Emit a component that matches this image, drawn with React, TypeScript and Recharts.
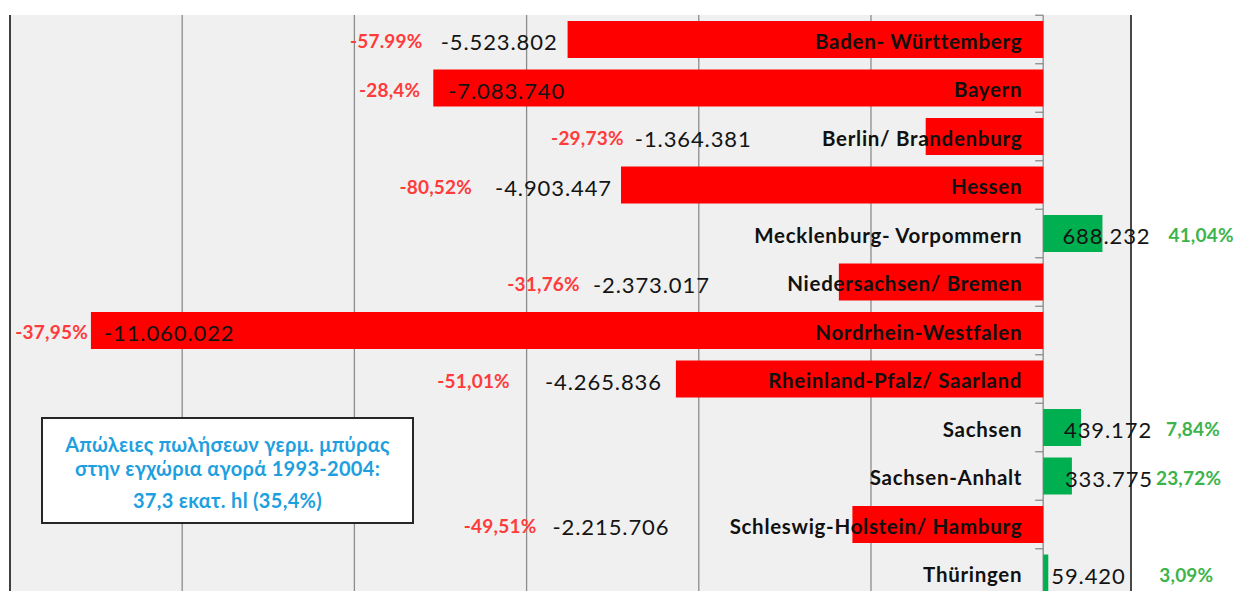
import React from "react";
import { BarChart, Bar, XAxis, YAxis, CartesianGrid, Cell, LabelList, ReferenceLine } from "recharts";

// ---- data ----
const categories = [
  "Baden- Württemberg",
  "Bayern",
  "Berlin/ Brandenburg",
  "Hessen",
  "Mecklenburg- Vorpommern",
  "Niedersachsen/ Bremen",
  "Nordrhein-Westfalen",
  "Rheinland-Pfalz/ Saarland",
  "Sachsen",
  "Sachsen-Anhalt",
  "Schleswig-Holstein/ Hamburg",
  "Thüringen",
];
const salesChange = [
  -5523802, -7083740, -1364381, -4903447, 688232, -2373017, -11060022, -4265836, 439172, 333775, -2215706, 59420,
];
const percentLabels = [
  "-57.99%", "-28,4%", "-29,73%", "-80,52%", "41,04%", "-31,76%", "-37,95%", "-51,01%", "7,84%", "23,72%", "-49,51%", "3,09%",
];
const xTicks = [-12000000, -10000000, -8000000, -6000000, -4000000, -2000000, 0];
const boxLines = ["Απώλειες πωλήσεων γερμ. μπύρας", "στην εγχώρια αγορά 1993-2004:", "37,3 εκατ. hl (35,4%)"];

// ---- layout (label nudges, px, relative to bar end) ----
const valueInside = [false, true, false, false, true, false, true, false, true, true, false, false];
const valueDx = [-10, 15, -174, -9, -40, -129, 13, -14, -17, -7, -183, 3];
const pctDx = [-145, -13, -302, -149, 66, -259, -3, -166, 85, 84, -316, 111];

const W = 1237;
const H = 620;
const M = { top: 15, right: 106, bottom: 23, left: 10 };
const BAND = (H - M.top - M.bottom) / categories.length;

const FONT = "Lato, 'Open Sans', sans-serif";
const RED = "#ff0000";
const GREEN = "#00b050";

const fmt = (v: number) => {
  const s = Math.abs(v).toString().replace(/\B(?=(\d{3})+(?!\d))/g, ".");
  return (v < 0 ? "-" : "") + s;
};

const data = categories.map((name, i) => ({ name, value: salesChange[i] }));

const EmptyTick = () => <g />;

const RowLabels = (p: any) => {
  const vb = p.viewBox || p;
  const x = Number(p.x ?? vb.x);
  const y = Number(p.y ?? vb.y);
  const w = Number(p.width ?? vb.width);
  const h = Number(p.height ?? vb.height);
  const value = Number(p.value);
  let i = typeof p.index === "number" ? p.index : salesChange.indexOf(value);
  if (i < 0) i = salesChange.indexOf(value);
  const left = Math.min(x, x + w);
  const right = Math.max(x, x + w);
  const neg = value < 0;
  const zero = neg ? right : left;
  const end = neg ? left : right;
  const cy = y + h / 2;
  const vAnchor = neg ? (valueInside[i] ? "start" : "end") : "start";
  return (
    <g>
      <line x1={zero - 8} x2={zero} y1={cy - BAND / 2} y2={cy - BAND / 2} stroke="#8c8c8c" strokeWidth={1.3} />
      <text
        x={zero - 21}
        y={cy + 1}
        textAnchor="end"
        dominantBaseline="central"
        fontFamily={FONT}
        fontWeight={700}
        fontSize={20.5}
        letterSpacing={0.7}
        fill="#111"
      >
        {categories[i]}
      </text>
      <text
        x={end + valueDx[i]}
        y={cy + 2}
        textAnchor={vAnchor}
        dominantBaseline="central"
        fontFamily={FONT}
        fontSize={22}
        letterSpacing={0.9}
        fill="#141414"
      >
        {fmt(value)}
      </text>
      <text
        x={end + pctDx[i]}
        y={cy + 1}
        textAnchor={neg ? "end" : "start"}
        dominantBaseline="central"
        fontFamily={FONT}
        fontWeight={700}
        fontSize={19}
        letterSpacing={0.2}
        fill={neg ? "#ff3b3b" : "#3cb44b"}
      >
        {percentLabels[i]}
      </text>
    </g>
  );
};

export default function App() {
  return (
    <div
      style={{
        position: "fixed",
        left: 0,
        top: 0,
        width: W,
        height: 591,
        overflow: "hidden",
        background: "#ffffff",
      }}
    >
      <BarChart width={W} height={H} data={data} layout="vertical" margin={M} barSize={37}>
        <CartesianGrid horizontal={false} vertical={true} stroke="#8c8c8c" strokeWidth={1.3} fill="#f0f0f0" fillOpacity={1} />
        <XAxis
          type="number"
          orientation="top"
          height={0}
          domain={[-12000000, 1020000]}
          ticks={xTicks}
          allowDataOverflow
          tick={<EmptyTick />}
          tickSize={5}
          tickLine={{ stroke: "#8c8c8c", strokeWidth: 1.3 }}
          axisLine={{ stroke: "#a6a6a6", strokeWidth: 2 }}
        />
        <YAxis type="category" dataKey="name" hide />
        <ReferenceLine x={-12000000} stroke="#404040" strokeWidth={2} />
        <ReferenceLine x={1020000} stroke="#262626" strokeWidth={1.5} />
        <Bar dataKey="value" isAnimationActive={false}>
          {data.map((d, i) => (
            <Cell key={i} fill={d.value < 0 ? RED : GREEN} />
          ))}
          <LabelList dataKey="value" content={RowLabels} />
        </Bar>
      </BarChart>
      <div
        style={{
          position: "absolute",
          left: 41,
          top: 417,
          width: 373,
          height: 107,
          boxSizing: "border-box",
          border: "2px solid #262626",
          background: "#ffffff",
          fontFamily: FONT,
          fontWeight: 700,
          fontSize: 20,
          letterSpacing: 0.3,
          color: "#1e9fe0",
          textAlign: "center",
          paddingTop: 13,
        }}
      >
        <div style={{ lineHeight: "24px" }}>{boxLines[0]}</div>
        <div style={{ lineHeight: "24px" }}>{boxLines[1]}</div>
        <div style={{ lineHeight: "24px", marginTop: 8 }}>{boxLines[2]}</div>
      </div>
    </div>
  );
}
